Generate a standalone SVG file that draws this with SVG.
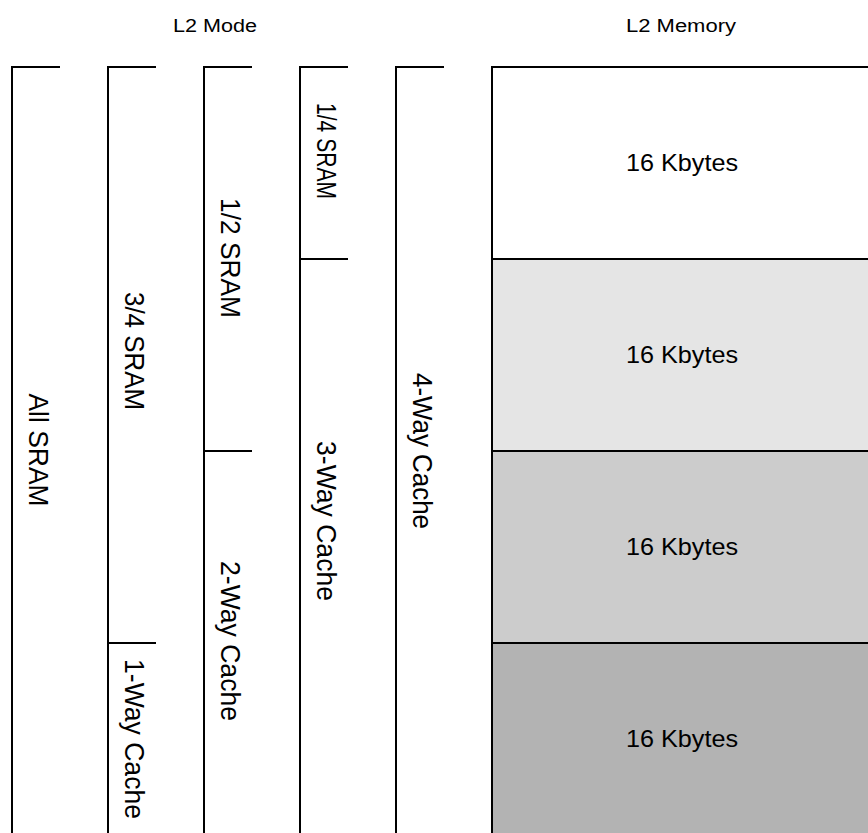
<svg xmlns="http://www.w3.org/2000/svg" width="868" height="833" viewBox="0 0 868 833">
<style>
.ln{fill:none;stroke:#000;stroke-width:2}
.bx{stroke:#000;stroke-width:2}
.t{font-family:"Liberation Sans",Arial,sans-serif;fill:#000}
.h{font-size:18px}
.v{font-size:28px}
.k{font-size:24px}
</style>
<rect width="868" height="833" fill="#fff"/>
<text class="t h" x="173" y="32" textLength="84" lengthAdjust="spacingAndGlyphs">L2 Mode</text>
<text class="t h" x="626" y="32" textLength="110" lengthAdjust="spacingAndGlyphs">L2 Memory</text>
<g id="memory">
<g id="seg1"><rect x="492" y="67" width="378" height="192" class="bx" style="fill:#ffffff"/><text class="t k" x="626" y="171" textLength="112" lengthAdjust="spacingAndGlyphs">16 Kbytes</text></g>
<g id="seg2"><rect x="492" y="259" width="378" height="192" class="bx" style="fill:#e5e5e5"/><text class="t k" x="626" y="363" textLength="112" lengthAdjust="spacingAndGlyphs">16 Kbytes</text></g>
<g id="seg3"><rect x="492" y="451" width="378" height="192" class="bx" style="fill:#cccccc"/><text class="t k" x="626" y="555" textLength="112" lengthAdjust="spacingAndGlyphs">16 Kbytes</text></g>
<g id="seg4"><rect x="492" y="643" width="378" height="192" class="bx" style="fill:#b3b3b3"/><text class="t k" x="626" y="747" textLength="112" lengthAdjust="spacingAndGlyphs">16 Kbytes</text></g>
</g>
<g id="connectors">
<path class="ln" d="M60,67H12V834"/>
<path class="ln" d="M156,67H108V834M108,643H156"/>
<path class="ln" d="M252,67H204V834M204,451H252"/>
<path class="ln" d="M348,67H300V834M300,259H348"/>
<path class="ln" d="M444,67H396V834"/>
</g>
<g id="allsram"><text class="t v" text-anchor="middle" transform="translate(29,450) rotate(90)" textLength="113" lengthAdjust="spacingAndGlyphs">All SRAM</text></g>
<g id="sram34"><text class="t v" text-anchor="middle" transform="translate(125,351) rotate(90)" textLength="118" lengthAdjust="spacingAndGlyphs">3/4 SRAM</text></g>
<g id="way1"><text class="t v" text-anchor="middle" transform="translate(125,739) rotate(90)" textLength="160" lengthAdjust="spacingAndGlyphs">1-Way Cache</text></g>
<g id="sram12"><text class="t v" text-anchor="middle" transform="translate(221,258) rotate(90)" textLength="120" lengthAdjust="spacingAndGlyphs">1/2 SRAM</text></g>
<g id="way2"><text class="t v" text-anchor="middle" transform="translate(221,641) rotate(90)" textLength="160" lengthAdjust="spacingAndGlyphs">2-Way Cache</text></g>
<g id="sram14"><text class="t v" text-anchor="middle" transform="translate(317,151) rotate(90)" textLength="96" lengthAdjust="spacingAndGlyphs">1/4 SRAM</text></g>
<g id="way3"><text class="t v" text-anchor="middle" transform="translate(317,521) rotate(90)" textLength="160" lengthAdjust="spacingAndGlyphs">3-Way Cache</text></g>
<g id="way4"><text class="t v" text-anchor="middle" transform="translate(413,451) rotate(90)" textLength="156" lengthAdjust="spacingAndGlyphs">4-Way Cache</text></g>
</svg>
